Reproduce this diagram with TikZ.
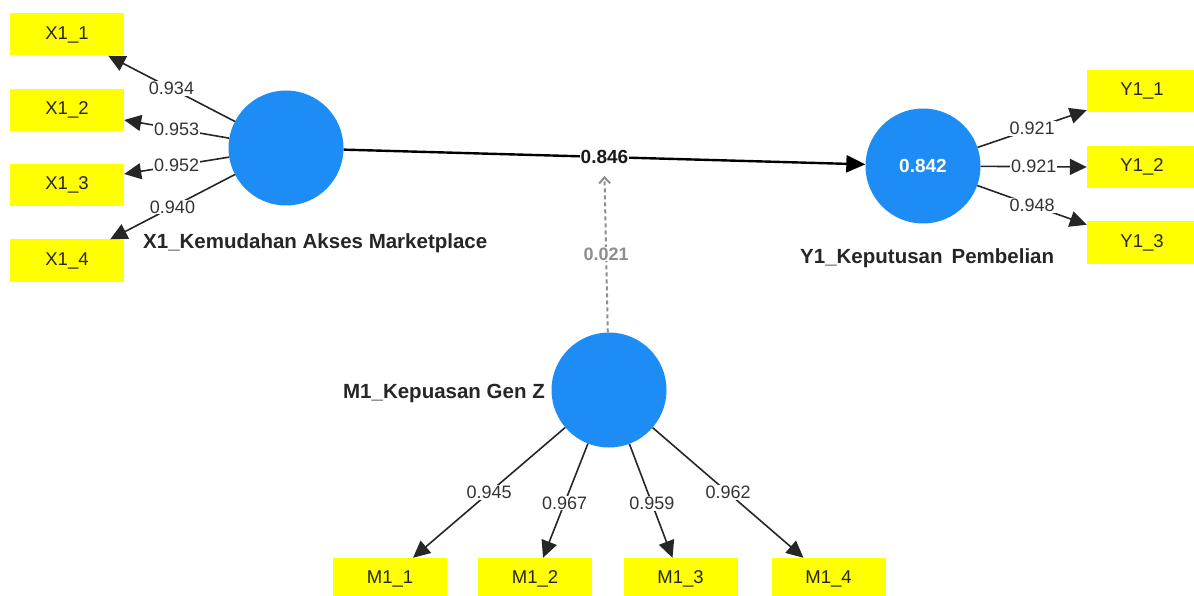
\documentclass[tikz,border=0pt]{standalone}
\usepackage{fontspec}
\setmainfont{Liberation Sans}
\usetikzlibrary{arrows.meta}
\definecolor{latent}{HTML}{1E8CF5}
\definecolor{itemyellow}{HTML}{FFFF00}
\definecolor{linegray}{HTML}{262626}
\definecolor{dashgray}{HTML}{8E8E8E}
\tikzset{
  indicator/.style={fill=itemyellow, minimum width=114pt, minimum height=42pt, inner sep=0pt, text=black!85, font=\fontsize{18.5}{20}\selectfont},
  construct/.style={circle, fill=latent, minimum size=115pt, inner sep=0pt},
  conlabel/.style={font=\bfseries\fontsize{20.5}{22}\selectfont, text=black!85, inner sep=0pt},
  loading/.style={fill=white, inner sep=1pt, font=\fontsize{18}{20}\selectfont, text=black!80},
  outerarrow/.style={draw=linegray, line width=1.6pt, -{Triangle[length=17pt,width=16pt]}},
}
\begin{document}
\begin{tikzpicture}[x=1pt,y=-1pt]
  \clip (0,0) rectangle (1194,596);
  % constructs
  \node[construct] (x1) at (286,148) {};
  \node[construct, text=white, font=\bfseries\fontsize{19}{20}\selectfont] (y1) at (923,166) {0.842};
  \node[construct] (m1) at (609,390) {};
  \node[conlabel, anchor=west] at (143,243) {X1\_Kemudahan Akses Marketplace};
  \node[conlabel, anchor=west] at (800,258) {Y1\_Keputusan\hspace{9pt}Pembelian};
  \node[conlabel, anchor=east] at (545,393) {M1\_Kepuasan Gen Z};

  % indicators
  \node[indicator] (x11) at (67,34.5) {X1\_1};
  \node[indicator] (x12) at (67,110) {X1\_2};
  \node[indicator] (x13) at (67,185) {X1\_3};
  \node[indicator] (x14) at (67,260.5) {X1\_4};
  \node[indicator, minimum width=110pt] (y11) at (1142,91) {Y1\_1};
  \node[indicator, minimum width=110pt] (y12) at (1142,167) {Y1\_2};
  \node[indicator, minimum width=110pt] (y13) at (1142,242.5) {Y1\_3};
  \node[indicator] (m11) at (390,579) {M1\_1};
  \node[indicator] (m12) at (535,579) {M1\_2};
  \node[indicator] (m13) at (680.5,579) {M1\_3};
  \node[indicator] (m14) at (828.5,579) {M1\_4};

  % loadings
  \draw[outerarrow] (x1) -- node[loading] {0.934} ([xshift=-16pt]x11.south east);
  \draw[outerarrow] (x1) -- node[loading] {0.953} ([yshift=-10pt]x12.east);
  \draw[outerarrow] (x1) -- node[loading] {0.952} ([yshift=11pt]x13.east);
  \draw[outerarrow] (x1) -- node[loading] {0.940} ([xshift=-14pt]x14.north east);
  \draw[outerarrow] (y1) -- node[loading] {0.921} ([yshift=2pt]y11.south west);
  \draw[outerarrow] (y1) -- node[loading] {0.921} (y12.west);
  \draw[outerarrow] (y1) -- node[loading] {0.948} ([yshift=-3.5pt]y13.north west);
  \draw[outerarrow] (m1) -- node[loading, pos=0.5] {0.945} ([xshift=23pt]m11.north);
  \draw[outerarrow] (m1) -- node[loading, pos=0.52] {0.967} ([xshift=8pt]m12.north);
  \draw[outerarrow] (m1) -- node[loading, pos=0.52] {0.959} ([xshift=-8pt]m13.north);
  \draw[outerarrow] (m1) -- node[loading, pos=0.5] {0.962} ([xshift=-25pt]m14.north);

  % paths
  \draw[black, line width=2.4pt, -{Triangle[length=19pt,width=17pt]}] (x1) -- node[loading, font=\bfseries\fontsize{19}{20}\selectfont, text=black!90] (pathlab) {0.846} (y1);
  \draw[dashgray, line width=2pt, dash pattern=on 4pt off 3pt, -{Straight Barb[length=6pt,width=11pt]}] (m1) -- node[loading, font=\bfseries\fontsize{18}{20}\selectfont, text=dashgray] {0.021} ([yshift=-10pt]pathlab.south);
\end{tikzpicture}
\end{document}
